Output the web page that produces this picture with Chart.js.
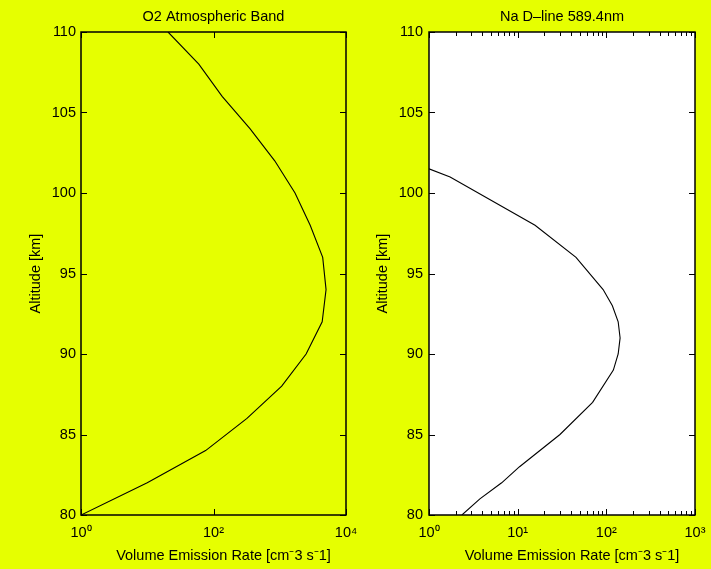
<!DOCTYPE html>
<html>
<head>
<meta charset="utf-8">
<script src="https://cdn.jsdelivr.net/npm/chart.js@4.4.0/dist/chart.umd.min.js"></script>
<style>
  html, body { margin: 0; padding: 0; background: #e6ff00; }
  body { width: 711px; height: 569px; position: relative; overflow: hidden; }
  .panel { position: absolute; top: 0; height: 569px; }
  #left { left: 0; width: 370px; }
  #right { left: 360px; width: 370px; }
</style>
</head>
<body>
<div class="panel" id="left"><canvas id="o2Chart" width="370" height="569"></canvas></div>
<div class="panel" id="right"><canvas id="naChart" width="370" height="569"></canvas></div>
<script>
// O2 atmospheric band profile
const o2Altitude = [80, 82, 84, 86, 88, 90, 92, 94, 96, 98, 100, 102, 104, 106, 108, 110]
const o2Rate = [1, 10, 76, 320, 1070, 2500, 4370, 5000, 4450, 2880, 1700, 840, 355, 135, 60, 20.6]

// Na D-line profile
const naAltitude = [80, 81, 82, 83, 85, 87, 89, 90, 91, 92, 93, 94, 96, 98, 101, 101.5]
const naRate = [2.35, 3.75, 6.6, 10.5, 30, 70, 120, 136, 143, 136, 117, 92, 45.5, 15.7, 1.73, 1.0]

// Tick labels
const altitudeTicks = [80, 85, 90, 95, 100, 105, 110]
const o2RateTicks = [1, 100, 10000]
const naRateTicks = [1, 10, 100, 1000]

const supDigits = ['\u2070', '\u00B9', '\u00B2', '\u00B3', '\u2074']
const FONT = "'Liberation Sans', Arial, Helvetica, sans-serif"
const X_TITLE = 'Volume Emission Rate [cm\u207B3 s\u207B1]'

Chart.defaults.font.family = FONT
Chart.defaults.font.size = 14.5
Chart.defaults.color = '#000'

function powerLabel(v) {
    return '10' + supDigits[Math.round(Math.log10(v))]
}

// minor tick values 2..9 for each decade
function minorTicks(majors) {
    const out = []
    for (let i = 0; i < majors.length - 1; i++) {
        for (let k = 2; k <= 9; k++) out.push(majors[i] * k)
    }
    return out
}

// Box frame with inward tick marks on all four sides
const frameTicks = {
    id: 'frameTicks',
    beforeDraw(chart, args, opts) {
        if (!opts.fill) return
        const {ctx, chartArea: a} = chart
        ctx.save()
        ctx.fillStyle = opts.fill
        ctx.fillRect(a.left, a.top, a.width, a.height)
        ctx.restore()
    },
    afterDatasetsDraw(chart, args, opts) {
        const {ctx, chartArea: a, scales: {x, y}} = chart
        const major = 6, minor = 4
        ctx.save()
        ctx.strokeStyle = '#000'
        ctx.lineWidth = 1
        ctx.beginPath()
        y.ticks.forEach(t => {
            const py = Math.round(y.getPixelForValue(t.value)) + 0.5
            ctx.moveTo(a.left, py); ctx.lineTo(a.left + major, py)
            ctx.moveTo(a.right, py); ctx.lineTo(a.right - major, py)
        })
        x.ticks.forEach(t => {
            const px = Math.round(x.getPixelForValue(t.value)) + 0.5
            ctx.moveTo(px, a.bottom); ctx.lineTo(px, a.bottom - major)
            ctx.moveTo(px, a.top); ctx.lineTo(px, a.top + major)
        })
        ;(opts.minor || []).forEach(v => {
            const px = Math.round(x.getPixelForValue(v)) + 0.5
            ctx.moveTo(px, a.bottom); ctx.lineTo(px, a.bottom - minor)
            ctx.moveTo(px, a.top); ctx.lineTo(px, a.top + minor)
        })
        ctx.stroke()
        ctx.lineWidth = 1.5
        ctx.strokeRect(a.left, a.top, a.width, a.height)

        // x axis title, sits a bit right of centre like the original
        ctx.fillStyle = '#000'
        ctx.font = '14.5px ' + FONT
        ctx.textAlign = 'center'
        ctx.textBaseline = 'alphabetic'
        ctx.fillText(X_TITLE, (a.left + a.right) / 2 + 10, 560)
        ctx.restore()
    }
}

function makePanel(canvasId, p) {
    const points = p.altitude.map((alt, i) => ({x: p.rate[i], y: alt}))
    return new Chart(document.getElementById(canvasId), {
        type: 'scatter',
        data: {
            datasets: [{
                data: points,
                showLine: true,
                borderColor: '#000',
                borderWidth: 1.1,
                pointRadius: 0,
                tension: 0
            }]
        },
        options: {
            responsive: false,
            animation: false,
            layout: {padding: {left: 0, right: p.rightPad, top: 0, bottom: 0}},
            plugins: {
                legend: {display: false},
                tooltip: {enabled: false},
                title: {
                    display: true,
                    text: p.title,
                    fullSize: false,
                    font: {size: 14.5, weight: 'normal'},
                    padding: {top: 8, bottom: 6.6}
                },
                frameTicks: {fill: p.fill, minor: p.minor}
            },
            scales: {
                x: {
                    type: 'logarithmic',
                    min: p.xTicks[0],
                    max: p.xTicks[p.xTicks.length - 1],
                    afterBuildTicks: s => { s.ticks = p.xTicks.map(v => ({value: v})) },
                    afterFit: s => { s.height = 54 },
                    grid: {display: false, drawTicks: false},
                    border: {display: false},
                    ticks: {
                        padding: 9,
                        maxRotation: 0,
                        autoSkip: false,
                        callback: v => powerLabel(v)
                    },
                    title: {display: false}
                },
                y: {
                    type: 'linear',
                    min: 80,
                    max: 110,
                    afterBuildTicks: s => { s.ticks = altitudeTicks.map(v => ({value: v})) },
                    afterFit: s => { s.width = p.yWidth },
                    grid: {display: false, drawTicks: false},
                    border: {display: false},
                    ticks: {padding: p.yPad},
                    title: {
                        display: true,
                        text: 'Altitude [km]',
                        font: {size: 14.5},
                        padding: {top: p.yTitlePad, bottom: 0}
                    }
                }
            }
        },
        plugins: [frameTicks]
    })
}

makePanel('o2Chart', {
    title: 'O2 Atmospheric Band',
    altitude: o2Altitude,
    rate: o2Rate,
    xTicks: o2RateTicks,
    minor: [],
    fill: null,
    yWidth: 81,
    yPad: 5,
    yTitlePad: 27,
    rightPad: 24
})

makePanel('naChart', {
    title: 'Na D\u2013line 589.4nm',
    altitude: naAltitude,
    rate: naRate,
    xTicks: naRateTicks,
    minor: minorTicks(naRateTicks),
    fill: '#ffffff',
    yWidth: 69,
    yPad: 6,
    yTitlePad: 14,
    rightPad: 35
})
</script>
</body>
</html>
